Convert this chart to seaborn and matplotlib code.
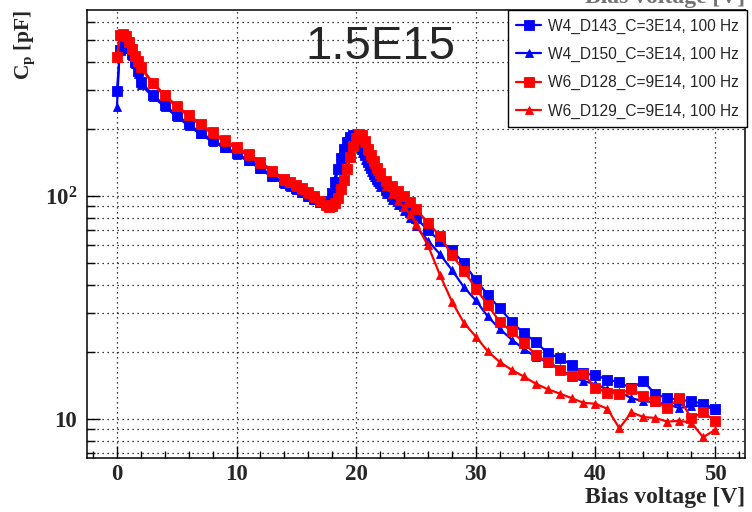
import matplotlib
matplotlib.use("Agg")
import matplotlib.pyplot as plt
import seaborn as sns
from matplotlib.ticker import FixedLocator, MultipleLocator, FuncFormatter, NullFormatter, LogLocator

# ---------------- data ----------------
bias_v = [0, 0.25, 0.5, 0.75, 1, 1.25, 1.5, 1.75, 2,
          3, 4, 5, 6, 7, 8, 9, 10, 11, 12, 13, 14,
          14.5, 15, 15.5, 16, 16.5, 17, 17.5, 17.75, 18, 18.25, 18.5, 18.75, 19, 19.25,
          19.5, 19.75, 20, 20.25, 20.5, 20.75, 21, 21.25, 21.5, 21.75, 22, 22.5, 23,
          23.5, 24, 24.5, 25,
          26, 27, 28, 29, 30, 31, 32, 33, 34, 35, 36, 37, 38, 39, 40, 41, 42, 43, 44,
          45, 46, 47, 48, 49, 50]

cp_w4_d143 = [294, 450, 515, 492, 462, 432, 398, 362, 325,
              284, 255, 231, 210, 192, 178, 166, 155, 145, 134, 123, 115,
              112, 108, 104, 100, 97, 94, 92.5, 95, 103, 116, 132, 148, 163, 175,
              183, 187, 184, 175, 163, 152, 142, 133, 126, 119, 114, 106, 100,
              95, 90, 85, 80,
              70, 63, 57, 49.9, 42, 36, 31.3, 27.3, 24.2, 22.2, 19.7, 18.8, 17.5, 16.0,
              15.7, 15.0, 14.6, 13.7, 14.8, 12.9, 12.4, 12.2, 12.0, 11.7, 11.1]

cp_w4_d150 = [250, 470, 505, 480, 455, 425, 390, 352, 315,
              279, 251, 227, 206, 189, 175, 164, 153, 143, 132, 121, 113,
              110, 106, 103, 99, 96, 94, 92.5, 96, 106, 120, 137, 152, 166, 177,
              184, 186, 180, 169, 156, 145, 136, 128, 121, 115, 110, 102, 96,
              91, 86, 80, 73,
              63, 54.8, 46.6, 39, 34, 28.8, 25.3, 22.7, 20.6, 19.0, 17.9, 16.9, 15.4,
              14.8, 14.3, 13.6, 13.2, 12.4, 12.0, 11.9, 11.6, 11.2, 11.4, 11.5, 11.0]

cp_w6_d128 = [420, 525, 535, 520, 490, 455, 425, 402, 380,
              322, 284, 253, 231, 210, 193, 178, 166, 154, 142, 130, 119,
              116, 112, 108, 104, 100, 95, 91, 89.5, 90, 93, 98, 107, 118, 132,
              149, 167, 182, 190, 187, 176, 163, 152, 143, 134, 127, 117, 111,
              105, 100, 94, 87,
              76, 66, 54.4, 46.3, 38.4, 32.5, 27.2, 24.7, 22.0, 19.4, 18.0, 16.6, 15.5,
              15.9, 13.8, 13.1, 13.0, 13.6, 12.7, 12.0, 11.2, 12.4, 10.1, 10.7, 9.8]

cp_w6_d129 = [415, 520, 530, 515, 485, 450, 420, 398, 376,
              318, 280, 250, 228, 207, 190, 175, 163, 151, 139, 128, 117,
              114, 110, 106, 102, 98, 94, 90.5, 89, 90, 93, 98, 107, 118, 132,
              149, 167, 181, 188, 184, 172, 159, 148, 139, 130, 122, 111, 102,
              95, 89, 83, 75,
              60, 44.2, 33.6, 27.0, 23.4, 20.1, 18.0, 16.6, 15.5, 14.4, 13.6, 13.0, 12.4,
              11.8, 11.7, 11.1, 9.08, 10.7, 10.2, 10.1, 9.73, 9.8, 9.63, 8.28, 8.93]

series_labels = ["W4_D143_C=3E14, 100 Hz", "W4_D150_C=3E14, 100 Hz",
                 "W6_D128_C=9E14, 100 Hz", "W6_D129_C=9E14, 100 Hz"]
x_ticks = [0, 10, 20, 30, 40, 50]
annotation = "1.5E15"

# ---------------- style ----------------
sns.set_style("ticks")
plt.rcParams["font.family"] = ["Liberation Serif", "DejaVu Serif"]
plt.rcParams["mathtext.fontset"] = "custom"
plt.rcParams["mathtext.rm"] = "Liberation Serif:bold"
plt.rcParams["mathtext.it"] = "Liberation Serif:bold"
plt.rcParams["mathtext.bf"] = "Liberation Serif:bold"

W, H = 752, 512
fig = plt.figure(figsize=(W / 100, H / 100), dpi=100)
L, R, T, B = 87, 745, 10, 458
ax = fig.add_axes([L / W, 1 - B / H, (R - L) / W, (B - T) / H])

styles = [
    dict(color="#0000ff", marker="s", markersize=6.6),
    dict(color="#0000ff", marker="^", markersize=6.0),
    dict(color="#ff0000", marker="s", markersize=6.6),
    dict(color="#ff0000", marker="^", markersize=6.0),
]
series = [cp_w4_d143, cp_w4_d150, cp_w6_d128, cp_w6_d129]
for vals, lab, st in zip(series, series_labels, styles):
    sns.lineplot(x=bias_v, y=vals, ax=ax, label=lab, estimator=None, sort=False,
                 color=st["color"], marker=st["marker"], markersize=st["markersize"],
                 markeredgewidth=0.6, markeredgecolor=st["color"], linewidth=1.6)

ax.set_yscale("log")
ax.set_xlim(-2.5, 52.5)
ax.set_ylim(6.68, 682)

ax.xaxis.set_major_locator(FixedLocator(x_ticks))
ax.xaxis.set_minor_locator(MultipleLocator(2))
ax.yaxis.set_major_locator(FixedLocator([10, 100]))
ax.yaxis.set_minor_locator(LogLocator(base=10, subs=range(2, 10), numticks=20))
ax.yaxis.set_minor_formatter(NullFormatter())
ax.yaxis.set_major_formatter(FuncFormatter(lambda v, p: "10" if v < 50 else r"$10^{2}$"))
ax.xaxis.set_major_formatter(FuncFormatter(lambda v, p: f"{int(v)}"))

ax.grid(True, which="major", axis="x", color="black", linestyle=(0, (1, 3)), linewidth=0.9)
ax.grid(True, which="both", axis="y", color="black", linestyle=(0, (1, 3)), linewidth=0.9)
ax.set_axisbelow(True)

ax.tick_params(axis="both", which="both", direction="in", top=False, right=False,
               width=1, color="black")
ax.tick_params(axis="x", which="major", length=9, pad=4)
ax.tick_params(axis="x", which="minor", length=5)
ax.tick_params(axis="y", which="major", length=9, pad=7)
ax.tick_params(axis="y", which="minor", length=6)
for lab in ax.get_xticklabels() + ax.get_yticklabels():
    lab.set_fontweight("bold")
    lab.set_fontsize(16.5)
    lab.set_family("Liberation Serif")
for s in ax.spines.values():
    s.set_linewidth(1.1)
    s.set_color("black")

ax.set_xlabel("")
ax.set_ylabel("")

# axis titles
fig.text(R / W, 1 - 503 / H, "Bias voltage [V]", ha="right", va="baseline",
         fontsize=17, fontweight="bold", family="Liberation Serif")
fig.text(R / W, 1 - 3 / H, "Bias voltage [V]", ha="right", va="baseline",
         fontsize=17, fontweight="bold", family="Liberation Serif", color="0.45")
fig.text(25 / W, 1 - 10 / H, r"C$_{\mathrm{p}}$ [pF]", rotation=90, ha="center", va="top",
         fontsize=15.5, fontweight="bold", family="Liberation Serif")

# annotation
fig.text(305 / W, 1 - 59 / H, annotation, ha="left", va="baseline",
         fontsize=34, family="Liberation Sans")

# legend
ax.legend_.remove() if ax.legend_ else None
handles, labels = ax.get_legend_handles_labels()
leg = fig.legend(handles, labels, loc="upper right", bbox_to_anchor=(747 / W, 1 - 10 / H),
                 borderaxespad=0, frameon=True, fancybox=False, framealpha=1,
                 edgecolor="black", prop={"family": "Liberation Sans", "size": 11.2},
                 handlelength=1.6, handletextpad=0.4, labelspacing=0.85, borderpad=0.55)
leg.get_frame().set_linewidth(1.0)

fig.savefig("out.png", dpi=100)
